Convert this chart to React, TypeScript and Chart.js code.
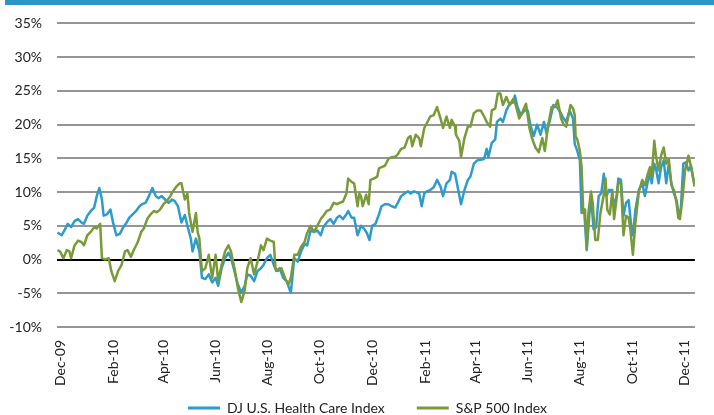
import React, { useEffect, useRef } from "react";
import { Chart, registerables } from "chart.js";

Chart.register(...registerables);

// Day offsets counted from 1 Dec 2009
const tickDays = [0, 62, 121, 182, 243, 304, 365, 427, 486, 547, 608, 669, 730];
const tickLabels = ["Dec-09", "Feb-10", "Apr-10", "Jun-10", "Aug-10", "Oct-10", "Dec-10", "Feb-11", "Apr-11", "Jun-11", "Aug-11", "Oct-11", "Dec-11"];

const hcLabel = "DJ U.S. Health Care Index";
const spLabel = "S&P 500 Index";

const hcDays = [-3, 2, 6, 9, 13, 17, 21, 25, 28, 32, 36, 40, 43, 46, 49, 51, 55, 59, 62, 66, 70, 74, 78, 81, 85, 89, 93, 96, 100, 104, 108, 112, 115, 119, 123, 127, 131, 134, 138, 142, 146, 149, 153, 155, 159, 163, 166, 170, 174, 178, 182, 185, 189, 193, 197, 200, 204, 208, 212, 216, 219, 223, 227, 231, 235, 238, 242, 246, 250, 253, 257, 261, 265, 269, 270, 274, 278, 282, 286, 289, 293, 297, 301, 305, 308, 312, 316, 320, 324, 327, 331, 335, 337, 341, 344, 348, 352, 356, 359, 362, 365, 369, 373, 376, 380, 384, 388, 392, 395, 399, 403, 407, 410, 414, 420, 423, 426, 429, 433, 437, 441, 445, 448, 452, 456, 458, 462, 465, 469, 473, 477, 480, 484, 488, 492, 496, 499, 501, 505, 509, 511, 515, 518, 522, 526, 530, 532, 535, 539, 543, 547, 550, 554, 558, 562, 566, 569, 573, 577, 581, 585, 588, 592, 596, 600, 602, 605, 608, 610, 613, 616, 619, 621, 624, 627, 630, 633, 636, 639, 642, 645, 648, 651, 653, 656, 659, 662, 665, 668, 670, 673, 677, 681, 684, 687, 690, 692, 695, 697, 700, 703, 706, 709, 712, 715, 718, 721, 724, 726, 729, 732, 735, 738, 740, 742];
const hcValues = [4.0, 3.6, 4.5, 5.3, 4.8, 5.7, 6.0, 5.5, 5.3, 6.5, 7.2, 7.7, 9.4, 10.6, 8.9, 6.5, 6.7, 7.4, 5.5, 3.6, 3.8, 4.8, 5.5, 6.2, 6.7, 7.2, 7.9, 8.2, 8.4, 9.4, 10.6, 9.4, 9.1, 9.4, 8.9, 8.4, 8.9, 8.7, 7.9, 5.5, 6.6, 5.0, 3.1, 1.2, 3.1, 1.2, -2.7, -2.9, -2.2, -3.4, -2.7, -3.9, -1.3, 0.2, 1.0, 0.2, -1.7, -3.7, -4.9, -3.9, -2.2, -2.4, -3.2, -1.7, -1.3, -0.8, 0.2, 0.7, -0.8, -1.7, -1.3, -2.7, -3.2, -4.6, -4.9, 0.2, -0.3, 1.2, 2.3, 2.1, 4.3, 4.1, 4.3, 3.6, 4.8, 5.5, 6.0, 5.3, 6.2, 6.5, 6.0, 6.7, 7.2, 6.2, 6.2, 3.6, 5.0, 4.5, 3.9, 2.9, 5.0, 5.3, 6.7, 7.9, 8.2, 8.2, 7.9, 7.7, 8.4, 9.4, 9.8, 10.1, 9.8, 10.1, 9.8, 7.9, 9.8, 10.1, 10.3, 10.7, 11.8, 10.8, 9.4, 11.3, 11.8, 13.0, 12.7, 10.8, 8.2, 10.3, 11.8, 12.3, 14.2, 14.7, 14.8, 14.9, 16.4, 15.2, 17.3, 17.8, 20.4, 20.9, 20.4, 22.1, 23.1, 23.3, 24.3, 22.6, 21.4, 22.1, 22.1, 20.0, 18.3, 20.0, 18.5, 20.4, 18.7, 20.7, 22.9, 22.6, 21.9, 21.1, 20.4, 22.1, 20.9, 17.1, 16.1, 14.7, 6.9, 7.4, 1.4, 6.5, 9.4, 4.5, 4.8, 9.4, 9.8, 12.7, 9.4, 10.3, 10.3, 7.9, 9.4, 12.0, 11.8, 6.5, 8.4, 8.8, 5.0, 3.6, 7.4, 10.3, 11.3, 9.4, 11.3, 12.7, 11.3, 14.2, 13.5, 11.3, 13.7, 14.7, 11.3, 14.2, 11.3, 9.8, 8.8, 6.5, 7.4, 14.2, 14.4, 13.2, 13.9, 12.3, 11.3];

const spDays = [-3, 0, 4, 8, 11, 13, 17, 21, 25, 28, 32, 36, 40, 43, 47, 49, 53, 57, 60, 64, 68, 72, 76, 79, 83, 87, 91, 95, 98, 102, 106, 110, 113, 117, 121, 125, 129, 132, 136, 140, 142, 146, 149, 151, 155, 159, 161, 163, 166, 170, 174, 178, 182, 185, 189, 193, 197, 200, 204, 208, 212, 216, 219, 223, 227, 231, 235, 238, 242, 246, 250, 252, 255, 259, 263, 267, 270, 274, 278, 282, 286, 289, 293, 297, 301, 305, 308, 312, 316, 320, 324, 327, 331, 335, 337, 341, 344, 348, 350, 352, 354, 358, 361, 363, 367, 371, 373, 376, 380, 384, 388, 392, 395, 399, 403, 407, 410, 412, 416, 420, 422, 426, 429, 433, 437, 441, 445, 448, 452, 456, 458, 462, 463, 467, 469, 473, 477, 480, 484, 488, 492, 496, 499, 503, 505, 509, 512, 515, 518, 522, 526, 530, 533, 537, 541, 545, 549, 552, 556, 560, 564, 567, 571, 575, 579, 582, 586, 589, 592, 594, 597, 600, 602, 603, 605, 608, 610, 612, 614, 616, 618, 621, 623, 626, 629, 632, 636, 638, 640, 643, 646, 648, 651, 653, 656, 659, 662, 665, 667, 670, 673, 677, 681, 684, 687, 690, 692, 695, 697, 700, 703, 706, 709, 712, 715, 718, 721, 723, 725, 728, 731, 735, 738, 740, 742];
const spValues = [1.4, 1.2, 0.2, 1.4, 1.2, 0.2, 2.1, 2.8, 2.6, 2.1, 3.6, 4.1, 4.8, 4.6, 5.3, 0.2, 0.0, 0.2, -1.7, -3.2, -1.7, -0.8, 1.2, 1.4, 0.4, 1.6, 2.6, 4.1, 4.6, 6.0, 6.7, 7.2, 7.0, 7.4, 8.2, 8.7, 9.4, 10.1, 10.8, 11.3, 11.3, 8.9, 9.8, 6.9, 4.1, 6.9, 4.1, 3.1, -1.7, -1.3, 0.7, -2.7, 0.7, -3.2, -0.8, 1.2, 2.1, 1.2, -1.3, -4.2, -6.3, -4.6, -1.3, 0.2, -2.2, -0.3, 2.1, 1.4, 3.1, 2.8, 2.6, -1.3, -1.7, -1.3, -2.7, -3.7, -2.7, 0.7, 0.7, 1.9, 2.6, 3.9, 5.0, 4.1, 5.0, 6.0, 6.5, 7.2, 7.4, 8.4, 8.2, 8.4, 8.6, 9.8, 12.0, 11.5, 11.3, 7.9, 9.8, 9.4, 7.9, 9.6, 8.2, 11.8, 12.0, 12.3, 13.5, 13.7, 13.9, 14.9, 15.2, 15.2, 15.6, 16.4, 16.6, 18.0, 18.3, 16.8, 18.5, 18.0, 16.8, 19.5, 20.2, 21.2, 21.4, 22.6, 20.9, 19.5, 21.2, 19.5, 20.7, 19.7, 18.5, 17.6, 15.2, 18.0, 19.7, 19.7, 21.7, 22.1, 22.1, 21.2, 20.4, 19.7, 22.1, 22.4, 24.6, 24.6, 22.9, 24.1, 22.9, 23.8, 22.9, 20.9, 21.9, 23.1, 19.5, 18.0, 16.6, 15.9, 18.0, 16.1, 20.0, 22.6, 22.6, 23.6, 20.9, 20.0, 19.7, 20.9, 22.9, 22.4, 21.4, 18.3, 17.8, 16.1, 13.7, 6.9, 7.4, 1.6, 6.9, 10.1, 8.4, 2.9, 2.9, 6.9, 9.6, 12.0, 7.4, 6.7, 10.3, 6.0, 9.1, 11.5, 11.3, 3.6, 6.5, 6.2, 4.5, 0.7, 5.5, 10.1, 11.8, 11.0, 12.5, 13.7, 12.3, 17.6, 15.4, 13.2, 15.4, 16.6, 14.2, 14.9, 11.0, 10.3, 8.4, 6.2, 6.0, 9.1, 13.2, 15.4, 13.7, 12.5, 10.8];

const BLUE = "#2E9BCD";
const GREEN = "#7A9A38";
const FONT = "Lato, 'Liberation Sans', sans-serif";
const TEXT = "#222222";

// Moves the legend to its place under the axis labels (layout helper only)
const legendPlacer = {
  id: "legendPlacer",
  afterLayout(chart: any) {
    const lg = chart.legend;
    if (!lg) return;
    const h = lg.bottom - lg.top;
    lg.top = 369;
    lg.bottom = 369 + h;
    lg.left += 10.5;
    lg.right += 10.5;
  },
};

export default function App() {
  const ref = useRef<HTMLCanvasElement>(null);

  useEffect(() => {
    const canvas = ref.current;
    if (!canvas) return;
    const chart = new Chart(canvas, {
      type: "line",
      data: {
        datasets: [
          {
            label: hcLabel,
            data: hcDays.map((d, i) => ({ x: d, y: hcValues[i] })),
            borderColor: BLUE,
            backgroundColor: BLUE,
            borderWidth: 2.5,
            pointRadius: 0,
            tension: 0,
            borderJoinStyle: "round",
            order: 1,
          },
          {
            label: spLabel,
            data: spDays.map((d, i) => ({ x: d, y: spValues[i] })),
            borderColor: GREEN,
            backgroundColor: GREEN,
            borderWidth: 2.5,
            pointRadius: 0,
            tension: 0,
            borderJoinStyle: "round",
            order: 0,
          },
        ],
      },
      plugins: [legendPlacer],
      options: {
        responsive: false,
        animation: false,
        devicePixelRatio: 1,
        layout: { padding: { top: 16, left: 0, right: 0, bottom: -28 } },
        plugins: {
          tooltip: { enabled: false },
          legend: {
            position: "bottom",
            labels: {
              boxWidth: 32,
              boxHeight: 3,
              padding: 32,
              color: TEXT,
              font: { size: 14, family: FONT },
              generateLabels: (c: any) =>
                c.data.datasets.map((ds: any, i: number) => ({
                  text: ds.label,
                  fillStyle: ds.borderColor,
                  strokeStyle: ds.borderColor,
                  lineWidth: 0,
                  hidden: false,
                  datasetIndex: i,
                  fontColor: TEXT,
                })),
            },
          },
        },
        scales: {
          x: {
            type: "linear",
            min: -3.5,
            max: 742.5,
            afterFit: (s: any) => {
              s.height = 60;
            },
            afterBuildTicks: (s: any) => {
              s.ticks = tickDays.map((v) => ({ value: v }));
            },
            grid: { display: false, drawTicks: false },
            border: { display: false },
            ticks: {
              autoSkip: false,
              minRotation: 90,
              maxRotation: 90,
              padding: 13,
              color: TEXT,
              font: { size: 14, family: FONT },
              callback: (v: any) => {
                const i = tickDays.indexOf(Number(v));
                return i >= 0 ? tickLabels[i] : "";
              },
            },
          },
          y: {
            min: -10,
            max: 35,
            afterFit: (s: any) => {
              s.width = 57;
            },
            grid: {
              drawTicks: false,
              lineWidth: 2,
              color: (ctx: any) => (ctx.tick && ctx.tick.value === 0 ? "#000000" : "#959595"),
            },
            border: { display: false },
            ticks: {
              stepSize: 5,
              padding: 15,
              color: TEXT,
              font: { size: 14, family: FONT },
              callback: (v: any) => `${v}%`,
            },
          },
        },
      },
    });
    return () => chart.destroy();
  }, []);

  return (
    <div style={{ position: "absolute", left: 0, top: 0, width: 714, height: 415, background: "#ffffff" }}>
      <div style={{ position: "absolute", left: 5, top: 0, width: 709, height: 5, background: "#2B96C6" }} />
      <canvas ref={ref} width={714} height={415} style={{ position: "absolute", left: 0, top: 0, width: 714, height: 415 }} />
    </div>
  );
}
